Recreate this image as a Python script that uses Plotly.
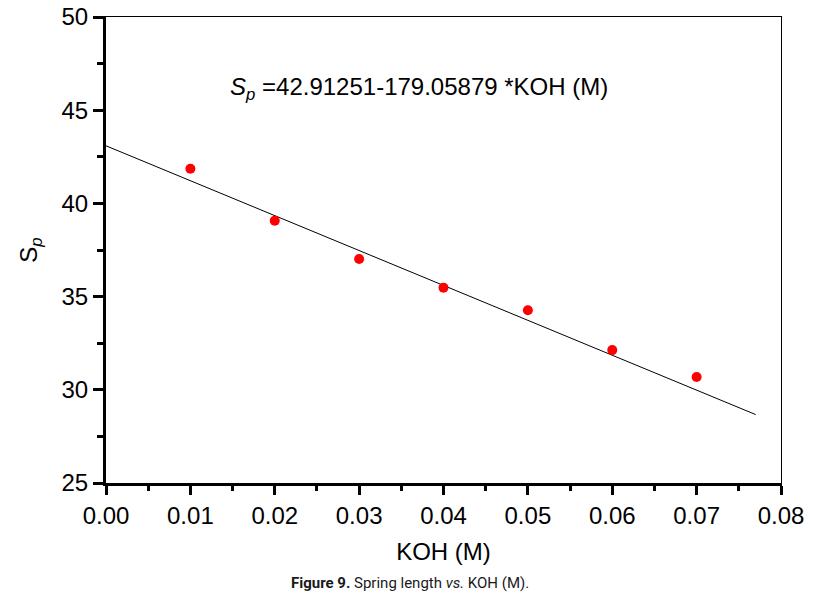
import plotly.graph_objects as go

# Data
koh = [0.01, 0.02, 0.03, 0.04, 0.05, 0.06, 0.07]
sp = [41.86, 39.07, 37.02, 35.48, 34.27, 32.13, 30.69]

# Fitted line as drawn in the picture (end points)
fit_x = [0.0, 0.077]
fit_y = [43.09, 28.67]

equation_text = "<i>S<sub>p</sub></i> =42.91251-179.05879 *KOH (M)"
caption_text = "<b>Figure 9.</b> Spring length <i>vs.</i> KOH (M)."

x_ticks = [0.00, 0.01, 0.02, 0.03, 0.04, 0.05, 0.06, 0.07, 0.08]
x_ticklabels = ["0.00", "0.01", "0.02", "0.03", "0.04", "0.05", "0.06", "0.07", "0.08"]
y_ticks = [25, 30, 35, 40, 45, 50]

FONT = "Liberation Sans, Arial, sans-serif"

fig = go.Figure()
fig.add_trace(go.Scatter(x=fit_x, y=fit_y, mode="lines",
                         line=dict(color="black", width=1), showlegend=False,
                         hoverinfo="skip"))
fig.add_trace(go.Scatter(x=koh, y=sp, mode="markers",
                         marker=dict(color="#ff0000", size=10, line=dict(width=0)),
                         showlegend=False))
# invisible trace on secondary axes for thin top/right frame
fig.add_trace(go.Scatter(x=[None], y=[None], xaxis="x2", yaxis="y2", showlegend=False))

fig.update_layout(
    width=815, height=592,
    margin=dict(l=98, r=42, t=9, b=117, autoexpand=False),
    paper_bgcolor="white", plot_bgcolor="white",
    font=dict(family=FONT, color="black", size=24),
    xaxis=dict(range=[0, 0.08], tickvals=x_ticks, ticktext=x_ticklabels,
               showgrid=False, zeroline=False, showline=True, linecolor="black",
               linewidth=3, ticks="outside", ticklen=9, tickwidth=3, tickcolor="black",
               tickfont=dict(size=24, family=FONT), automargin=False,
               ticklabeloverflow="allow",
               minor=dict(ticks="outside", ticklen=5, tickwidth=3, tickcolor="black",
                          dtick=0.005, tick0=0, showgrid=False),
               title=dict(text="KOH (M)", font=dict(size=24, family=FONT), standoff=16)),
    yaxis=dict(range=[25, 50], tickvals=y_ticks,
               showgrid=False, zeroline=False, showline=True, linecolor="black",
               linewidth=3, ticks="outside", ticklen=10, tickwidth=3, tickcolor="black",
               tickfont=dict(size=24, family=FONT), automargin=False,
               ticklabeloverflow="allow",
               minor=dict(ticks="outside", ticklen=6, tickwidth=3, tickcolor="black",
                          dtick=2.5, tick0=25, showgrid=False),
               title=dict(text="S<sub><i>p</i></sub>", font=dict(size=24, family=FONT), standoff=18)),
    xaxis2=dict(overlaying="x", side="top", range=[0, 0.08], showline=True,
                linecolor="black", linewidth=1, showticklabels=False, ticks="",
                showgrid=False, zeroline=False),
    yaxis2=dict(overlaying="y", side="right", range=[25, 50], showline=True,
                linecolor="black", linewidth=1, showticklabels=False, ticks="",
                showgrid=False, zeroline=False),
    annotations=[
        dict(text=equation_text, xref="paper", yref="paper", x=0.180, y=0.847,
             xanchor="left", yanchor="middle", showarrow=False,
             font=dict(size=24, family=FONT, color="black")),
        dict(text=caption_text, xref="paper", yref="paper", x=0.451, y=-0.2137,
             xanchor="center", yanchor="middle", showarrow=False,
             font=dict(size=15, family="Roboto, Liberation Sans, sans-serif",
                       color="#1a1a1a")),
    ],
)

fig.write_html("out.html")
